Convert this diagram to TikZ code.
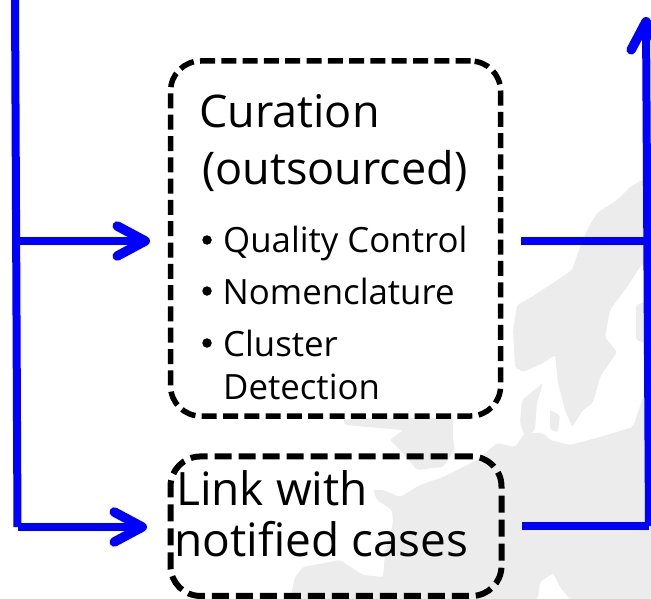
\documentclass[tikz,border=0pt]{standalone}
\usepackage{fontspec}
\setmainfont{Open Sans}
\usetikzlibrary{arrows.meta,positioning}
\definecolor{flowblue}{RGB}{0,0,255}
\definecolor{mapgray}{RGB}{236,236,236}
\begin{document}
\begin{tikzpicture}
[x=1pt, y=-1pt,
flow/.style={draw=flowblue, line width=8pt},
flowtip/.style={flow, -{Straight Barb[length=28pt,width=30pt,line width=9.5pt,round]}},
curated/.style={rectangle, draw=black, line width=5.5pt, dash pattern=on 15pt off 6.3pt, rounded corners=30pt, inner sep=0pt},
linked/.style={curated, line width=6pt, dash pattern=on 17pt off 7pt},
title/.style={anchor=base west, inner sep=0pt, font=\fontsize{45}{45}\selectfont},
linktitle/.style={title, font=\fontsize{46}{46}\selectfont},
item/.style={anchor=base west, inner sep=0pt, font=\fontsize{34.8}{34.8}\selectfont},
dot/.style={circle, fill=black, inner sep=0pt, minimum size=9.5pt},
land/.style={fill=mapgray, rounded corners=2pt}]

\useasboundingbox (0,0) rectangle (651,599);

% map behind the boxes
\fill[land] (642,180) -- (630,187) -- (617,200) -- (597,213) -- (588,228) -- (580,247) -- (572,270) -- (550,285) -- (530,298) -- (517,305) -- (513,330) -- (515,367) -- (523,372) -- (543,363) -- (555,355) -- (558,383) -- (565,410) -- (572,427) -- (583,410) -- (593,403) -- (600,377) -- (617,352) -- (605,337) -- (610,310) -- (627,287) -- (640,267) -- (651,257) -- (651,180) -- cycle;
\fill[land] (651,300) -- (636,305) -- (636,340) -- (651,345) -- cycle;
\fill[land] (522,400) -- (543,383) -- (537,403) -- (535,430) -- (525,437) -- (520,423) -- cycle;
\fill[land] (550,410) -- (560,415) -- (558,432) -- (550,430) -- cycle;
\fill[land] (343,420) -- (363,418) -- (453,418) -- (453,440) -- (455,450) -- (443,467) -- (417,470) -- (403,453) -- (390,440) -- (403,430) -- (367,427) -- (345,425) -- cycle;
% mainland
\fill[land] (651,397) -- (643,397) -- (633,427) -- (600,437) -- (570,445) -- (550,440) -- (543,433) -- (525,433) -- (515,447) -- (497,443) -- (477,460) -- (457,470) -- (443,477) -- (420,485) -- (400,497) -- (383,490) -- (373,490) -- (377,500) -- (392,510) -- (393,523) -- (385,553) -- (383,577) -- (363,575) -- (340,560) -- (303,567) -- (295,577) -- (290,599) -- (538,599) -- (540,582) -- (553,573) -- (560,587) -- (570,599) -- (651,599) -- cycle;

\node[curated, fill=white, minimum width=330pt, minimum height=355pt] (curation) at (335.6,238.5) {};
\node[linked, minimum width=331pt, minimum height=139.5pt] (link) at (336,526.2) {};

\node[title] (curtitle) at (199,128) {Curation};
\node[title] (outsourced) at (202,185) {(outsourced)};
\node[dot] (dot1) at (207,240) {};
\node[dot] (dot2) at (207,291) {};
\node[dot] (dot3) at (207,343) {};
\node[item] (quality) at (223,252) {Quality Control};
\node[item] (nomen) at (222.5,304) {Nomenclature};
\node[item] (cluster) at (223,356) {Cluster};
\node[item] (detect) at (223,399) {Detection};
\node[linktitle] (linkwith) at (176,505) {Link with};
\node[linktitle] (notified) at (174,556) {notified cases};

\coordinate (start) at (15,-2);
\coordinate (branch) at (16,241);
\coordinate (corner) at (17.5,527);
\coordinate (curin) at (150,241);
\coordinate (linkin) at (147,527);
\coordinate (curout) at (521,241);
\coordinate (linkout) at (522,526);
\coordinate (join) at (647,241);
\coordinate (lower) at (649,526);
\coordinate (top) at (646,17);

\draw[flow] (start) -- (corner);
\draw[flowtip] (branch) -- (curin);
\draw[flowtip] (corner) -- (linkin);
\draw[flow] (curout) -- (join);
\draw[flow] (linkout) -- (lower);
\draw[flowtip] (lower) -- (top);

\end{tikzpicture}
\end{document}
